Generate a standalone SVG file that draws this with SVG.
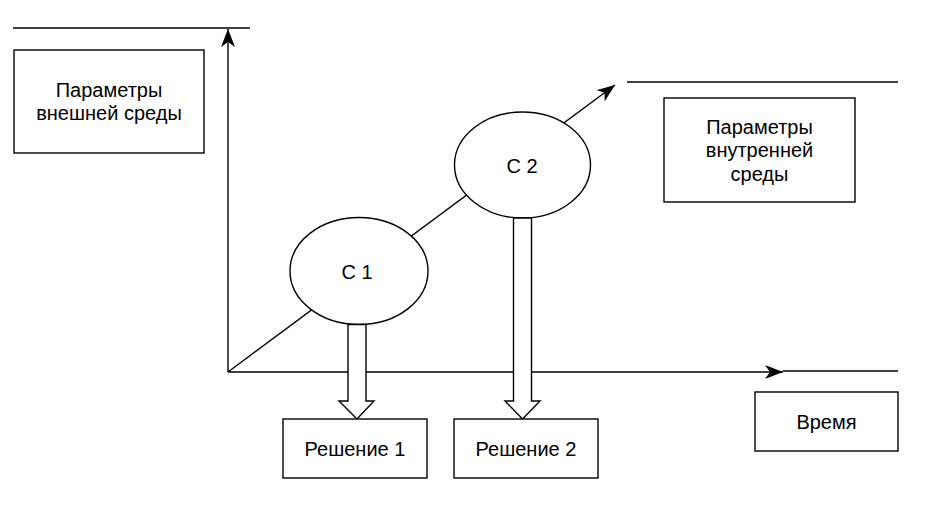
<svg xmlns="http://www.w3.org/2000/svg" width="945" height="508" viewBox="0 0 945 508">
<style>
.s{fill:none;stroke:#000;stroke-width:1.4}
.b{fill:#fff;stroke:#000;stroke-width:1.4}
text{font-family:"Liberation Sans",Arial,sans-serif;font-size:20px;fill:#000;text-anchor:middle}
</style>
<defs>
<marker id="ar" viewBox="0 0 20 14" refX="18" refY="7" markerWidth="20" markerHeight="14" markerUnits="userSpaceOnUse" orient="auto">
<path d="M0,0 L18,7 L0,14 L5,7 Z" fill="#000"/>
</marker>
</defs>
<g id="connectors">
<line class="s" x1="13" y1="28" x2="250" y2="28"/>
<line class="s" x1="228" y1="372" x2="228" y2="29" marker-end="url(#ar)"/>
<line class="s" x1="228" y1="372" x2="783" y2="372" marker-end="url(#ar)"/>
<line class="s" x1="783" y1="371" x2="898" y2="371"/>
<line class="s" x1="228" y1="372" x2="615" y2="85" marker-end="url(#ar)"/>
<line class="s" x1="627" y1="82" x2="898" y2="82"/>
</g>
<g id="env">
<rect class="b" x="14" y="50" width="190" height="103"/>
<text x="109" y="97">Параметры</text>
<text x="109" y="120">внешней среды</text>
</g>
<g id="inner">
<rect class="b" x="664" y="98" width="191" height="104"/>
<text x="759.5" y="134">Параметры</text>
<text x="759.5" y="157">внутренней</text>
<text x="759.5" y="181">среды</text>
</g>
<g id="c1">
<ellipse class="b" cx="359" cy="271" rx="69" ry="53.5"/>
<text x="357" y="279">С 1</text>
</g>
<g id="c2">
<ellipse class="b" cx="522.5" cy="165" rx="68" ry="53"/>
<text x="522" y="173">С 2</text>
</g>
<g id="arrow1">
<polygon class="b" points="348,324.5 366,324.5 366,401 374,401 357,419 339,401 348,401"/>
</g>
<g id="arrow2">
<polygon class="b" points="513.5,218 531.5,218 531.5,401 540,401 522.5,419 505,401 513.5,401"/>
</g>
<g id="sol1">
<rect class="b" x="283" y="419" width="144" height="59"/>
<text x="355" y="456">Решение 1</text>
</g>
<g id="sol2">
<rect class="b" x="454" y="419" width="144" height="59"/>
<text x="526" y="456">Решение 2</text>
</g>
<g id="time">
<rect class="b" x="755" y="392" width="143" height="59"/>
<text x="826.5" y="429">Время</text>
</g>
</svg>
